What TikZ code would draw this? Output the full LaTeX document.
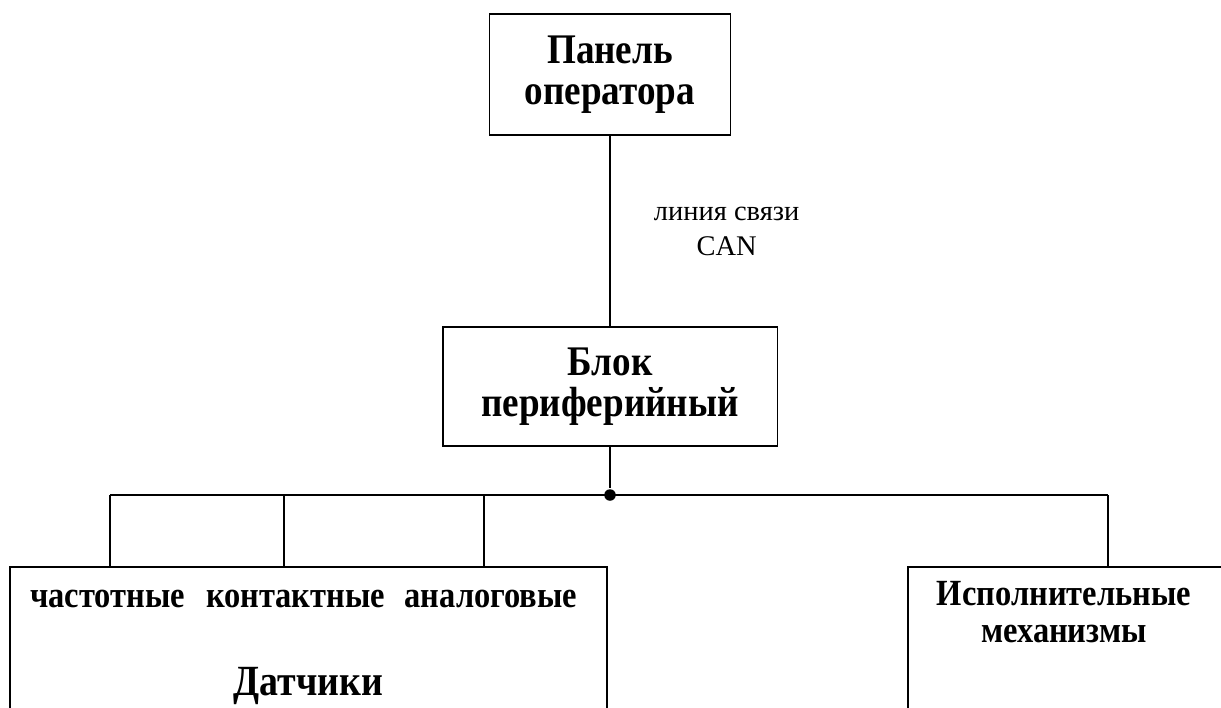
\documentclass[tikz,border=0pt]{standalone}
\usepackage{fontspec}
\setmainfont{Liberation Serif}[BoldFeatures={FakeStretch=0.88}]
\begin{document}
\begin{tikzpicture}[x=0.02cm,y=-0.02cm,line width=1.1pt,
    unit/.style={draw,align=center,inner sep=0pt,font=\bfseries\fontsize{24}{23}\selectfont},
    group/.style={draw,inner sep=0pt,minimum height=3.86cm},
    kind/.style={anchor=base,inner sep=0pt,font=\bfseries\fontsize{21}{21.5}\selectfont},
    title/.style={anchor=base,inner sep=0pt,font=\bfseries\fontsize{24.5}{23}\selectfont},
    linktext/.style={align=center,inner sep=0pt,font=\fontsize{16.2}{19.9}\selectfont},
    junction/.style={circle,fill,inner sep=0pt,minimum size=0.23cm}]
  \useasboundingbox (0,0) rectangle (1221,707);
  \clip (0,0) rectangle (1221,707);
  \draw
    (610,74.5) node[unit,minimum width=4.82cm,minimum height=2.42cm] (panel){Панель\\оператора}
    (610,386.5) node[unit,minimum width=6.7cm,minimum height=2.38cm] (block){Блок\\периферийный}
    (610,495) node[junction] (bus){}
    (308.5,663.5) node[group,minimum width=11.94cm] (sensors){}
    (1074,663.5) node[group,minimum width=6.64cm] (drives){}
    (107.5,607) node[kind] (freq){частотные}
    (295.5,607) node[kind] (contact){контактные}
    (491,607) node[kind] (analog){аналоговые}
    (308.5,695) node[title] (sensorsname){Датчики}
    (1064,612) node[kind,anchor=center,align=center] (drivesname){Исполнительные\\механизмы};
  \coordinate (t1) at (110,495);
  \coordinate (t2) at (284,495);
  \coordinate (t3) at (484,495);
  \coordinate (t4) at (1108,495);
  \begin{scope}[-]
    \draw (panel) to node[linktext,anchor=west,xshift=0.86cm] (link){линия связи\\CAN} (block);
    \draw (block) to (bus);
    \draw (t1) to (t4);
    \draw (t1) to (t1 |- sensors.north);
    \draw (t2) to (t2 |- sensors.north);
    \draw (t3) to (t3 |- sensors.north);
    \draw (t4) to (t4 |- drives.north);
  \end{scope}
\end{tikzpicture}
\end{document}
